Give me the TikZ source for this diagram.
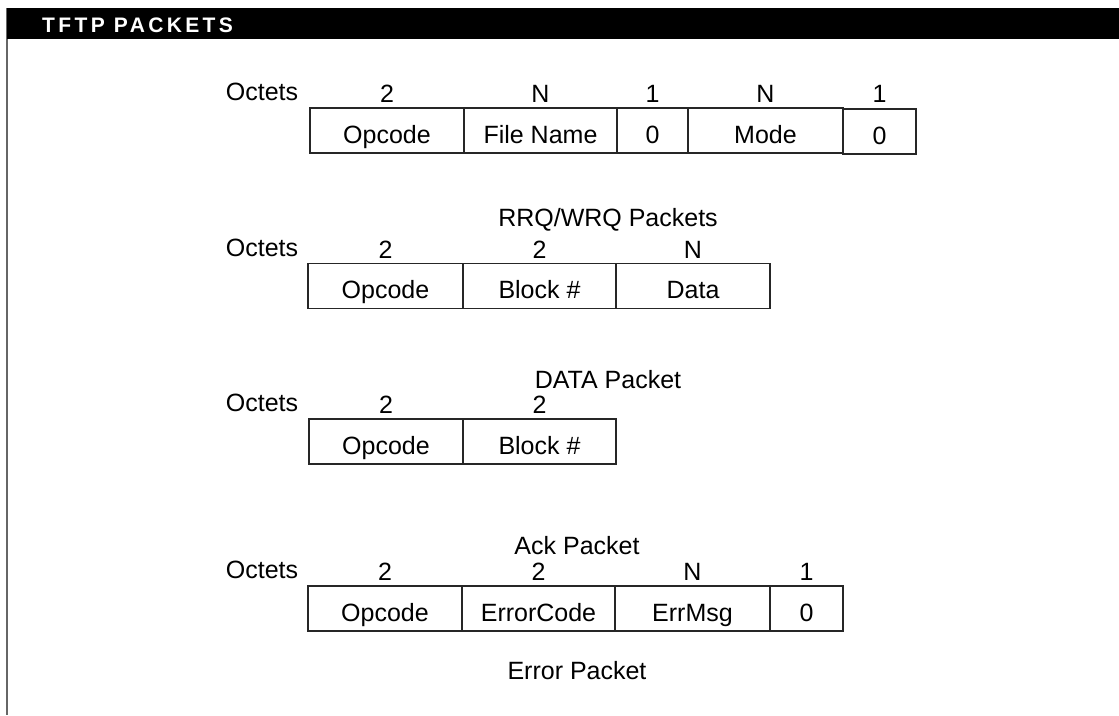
\documentclass[tikz,border=0pt]{standalone}
\usepackage{fontspec}
\setmainfont{Liberation Sans}
\newfontfamily\hdrfont[LetterSpace=16]{Liberation Sans Bold}
\begin{document}
\begin{tikzpicture}[x=1pt,y=-1pt,
  cell/.style={draw=black!85, line width=1.3pt, rectangle, inner sep=0pt,
    minimum height=45pt, text height=30pt, text depth=5pt,
    font=\fontsize{25}{28}\selectfont},
  lbl/.style={anchor=base, inner sep=0pt, font=\fontsize{25}{28}\selectfont},
]
\useasboundingbox (0,0) rectangle (1119,715);
% frame and header
\draw[black!60, line width=1.5pt] (7,8) -- (7,715);
\fill[black] (7,8) rectangle (1119,39);
\node[anchor=base west, inner sep=0pt, text=white, font=\hdrfont\fontsize{21}{22}\selectfont] (hdr) at (42,32) {TFTP PACKETS};

% Row 1: RRQ/WRQ
\node[lbl] (o1) at (262,100) {Octets};
\node[cell, minimum width=154pt] (r1a) at (387,130.5) {Opcode};
\node[cell, minimum width=153pt] (r1b) at (540.5,130.5) {File Name};
\node[cell, minimum width=71pt] (r1c) at (652.5,130.5) {0};
\node[cell, minimum width=155pt] (r1d) at (765.5,130.5) {Mode};
\node[cell, minimum width=73pt] (r1e) at (879.5,131.5) {0};
\node[lbl] at (387,102.5) {2};
\node[lbl] at (540.5,102.5) {N};
\node[lbl] at (652.5,102.5) {1};
\node[lbl] at (765.5,102.5) {N};
\node[lbl] at (879.5,102.5) {1};
\node[lbl] (c1) at (608,226) {RRQ/WRQ Packets};

% Row 2: DATA
\node[lbl] (o2) at (262,256) {Octets};
\node[cell, minimum width=155pt] (r2a) at (385.5,286) {Opcode};
\node[cell, minimum width=153pt] (r2b) at (539.5,286) {Block \#};
\node[cell, minimum width=154pt] (r2c) at (693,286) {Data};
\node[lbl] at (385.5,258.5) {2};
\node[lbl] at (539.5,258.5) {2};
\node[lbl] at (693,258.5) {N};
\node[lbl] (c2) at (608,388) {DATA Packet};

% Row 3: ACK
\node[lbl] (o3) at (262,411) {Octets};
\node[cell, minimum width=154pt] (r3a) at (386,441.5) {Opcode};
\node[cell, minimum width=153pt] (r3b) at (539.5,441.5) {Block \#};
\node[lbl] at (386,413.5) {2};
\node[lbl] at (539.5,413.5) {2};
\node[lbl] (c3) at (577,554) {Ack Packet};

% Row 4: ERROR
\node[lbl] (o4) at (262,578) {Octets};
\node[cell, minimum width=154pt] (r4a) at (385,608.5) {Opcode};
\node[cell, minimum width=153pt] (r4b) at (538.5,608.5) {ErrorCode};
\node[cell, minimum width=155pt] (r4c) at (692.5,608.5) {ErrMsg};
\node[cell, minimum width=73pt] (r4d) at (806.5,608.5) {0};
\node[lbl] at (385,580.5) {2};
\node[lbl] at (538.5,580.5) {2};
\node[lbl] at (692.5,580.5) {N};
\node[lbl] at (806.5,580.5) {1};
\node[lbl] (c4) at (577,679) {Error Packet};
\end{tikzpicture}
\end{document}
